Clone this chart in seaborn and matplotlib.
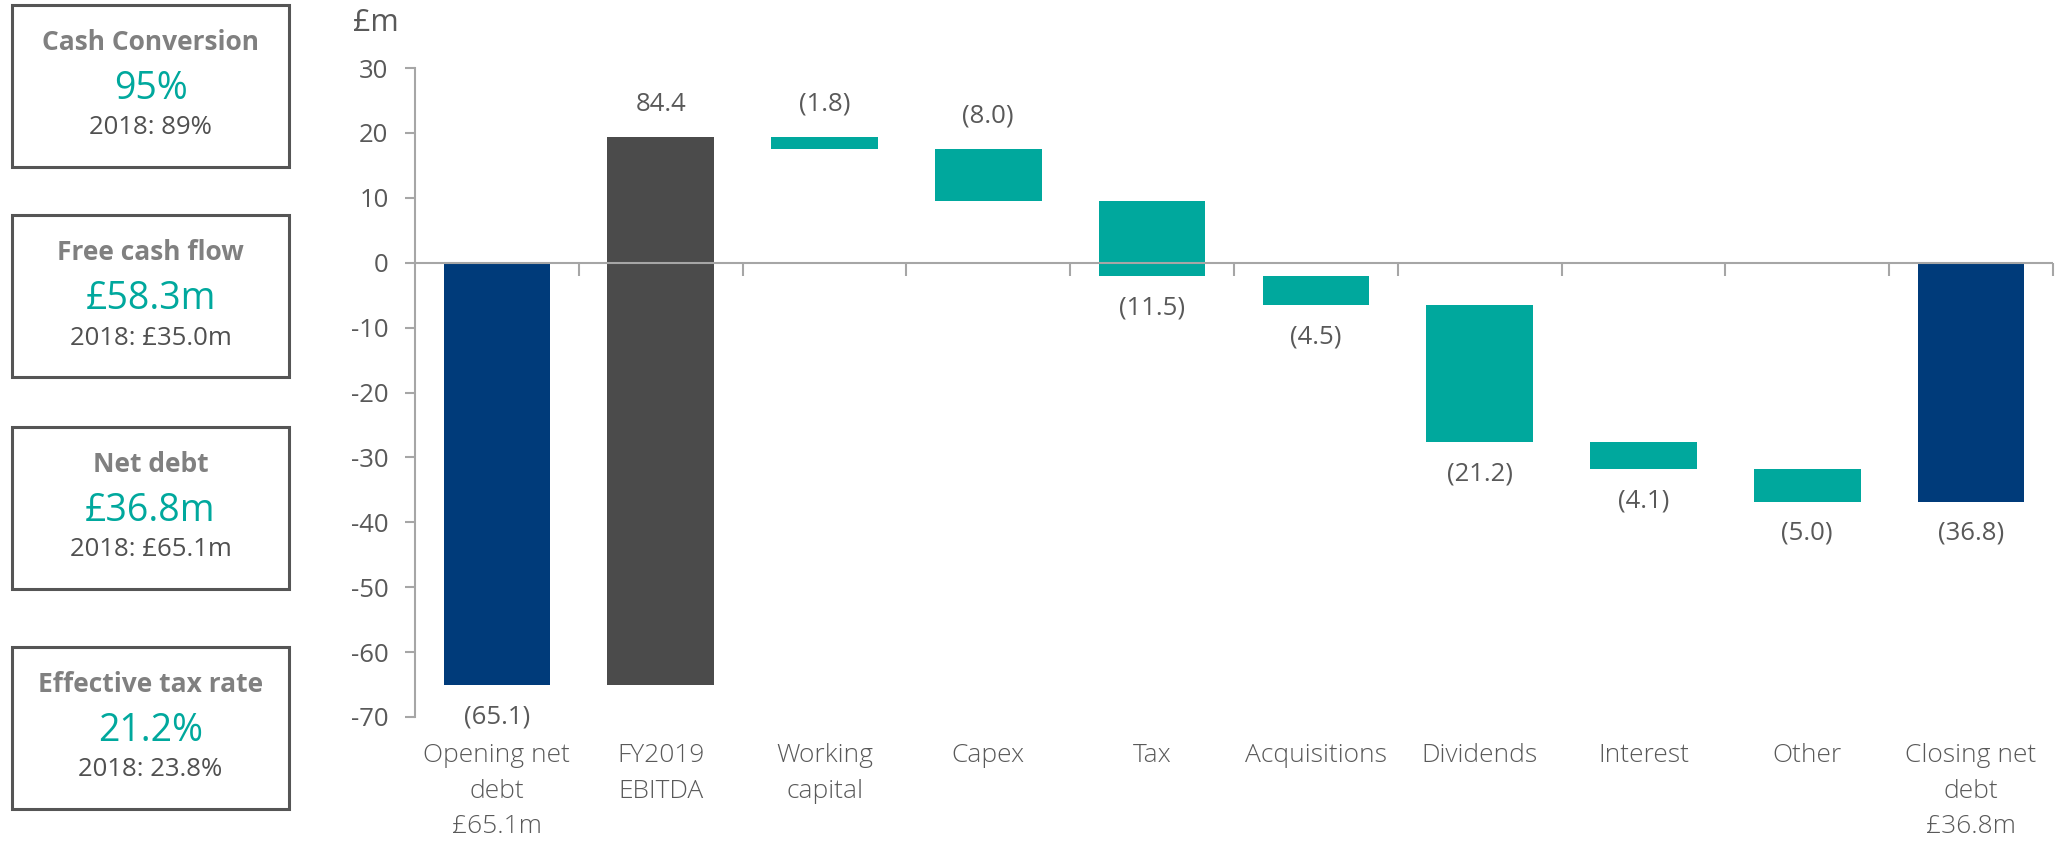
import matplotlib
matplotlib.use("Agg")
import matplotlib.pyplot as plt
import matplotlib.patches as mpatches
import numpy as np
import seaborn as sns

# ---- data ----
categories = ["Opening net\ndebt\n£65.1m", "FY2019\nEBITDA", "Working\ncapital", "Capex", "Tax",
              "Acquisitions", "Dividends", "Interest", "Other", "Closing net\ndebt\n£36.8m"]
movements = [-65.1, 84.4, -1.8, -8.0, -11.5, -4.5, -21.2, -4.1, -5.0, -36.8]
bar_labels = ["(65.1)", "84.4", "(1.8)", "(8.0)", "(11.5)", "(4.5)", "(21.2)", "(4.1)", "(5.0)", "(36.8)"]
kinds = ["total", "up", "step", "step", "step", "step", "step", "step", "step", "total"]
yticks = [30, 20, 10, 0, -10, -20, -30, -40, -50, -60, -70]

kpi_titles = ["Cash Conversion", "Free cash flow", "Net debt", "Effective tax rate"]
kpi_values = ["95%", "£58.3m", "£36.8m", "21.2%"]
kpi_prior = ["2018: 89%", "2018: £35.0m", "2018: £65.1m", "2018: 23.8%"]

# ---- style ----
NAVY = "#003B7A"
DARK = "#4B4B4B"
TEAL = "#00A89D"
TXT = "#595959"
AXC = "#A6A6A6"
colors = {"total": NAVY, "up": DARK, "step": TEAL}

sns.set_theme(style="white")
plt.rcParams["font.family"] = ["Open Sans", "DejaVu Sans"]
plt.rcParams["axes.unicode_minus"] = False

# waterfall geometry from movements
bottoms, heights = [], []
level = 0.0
for m, k in zip(movements, kinds):
    if k == "total":
        bottoms.append(0.0)
        heights.append(m)
        level = m
    else:
        bottoms.append(level)
        heights.append(m)
        level = level + m

W, H = 2060, 843
fig = plt.figure(figsize=(W / 100, H / 100), dpi=100)
ax = fig.add_axes([415 / W, 1 - 717 / H, 1638 / W, (717 - 68) / H])

sns.barplot(x=categories, y=heights, bottom=bottoms, color=TEAL, width=0.65,
            errorbar=None, ax=ax, saturation=1, linewidth=0, zorder=2)
for p, k in zip(ax.patches, kinds):
    p.set_facecolor(colors[k])
    p.set_edgecolor("none")

ax.set_ylim(-70, 30)
ax.set_xlim(-0.5, len(categories) - 0.5)
ax.set_yticks(yticks)
ax.set_yticklabels([str(v) for v in yticks])

for s in ["top", "right", "bottom"]:
    ax.spines[s].set_visible(False)
ax.spines["left"].set_color(AXC)
ax.spines["left"].set_linewidth(1.5)
ax.tick_params(axis="y", length=7, width=1.5, color=AXC, labelsize=18.5,
               labelcolor=TXT, pad=12, left=True)
ax.tick_params(axis="x", length=0, labelsize=19, labelcolor=TXT, pad=19)
for lab in ax.get_xticklabels():
    lab.set_linespacing(1.55)
    lab.set_fontweight("light")
ax.set_xlabel("")
ax.set_ylabel("")

# zero axis with category boundary ticks
ax.axhline(0, color=AXC, lw=1.5, zorder=3)
zero_frac = (0 - (-70)) / (30 - (-70))
sec = ax.secondary_xaxis(zero_frac)
sec.set_xticks(np.arange(0.5, len(categories), 1.0))
sec.set_xticklabels([])
sec.tick_params(axis="x", direction="in", length=9, width=1.5, color=AXC)
sec.spines["bottom"].set_visible(False)
sec.spines["top"].set_visible(False)

# bar value labels
for i, (b, h, lab) in enumerate(zip(bottoms, heights, bar_labels)):
    top = max(b, b + h)
    low = min(b, b + h)
    if h > 0 or low > 0:
        ax.annotate(lab, (i, top), xytext=(0, 24), textcoords="offset points",
                    ha="center", va="center", fontsize=18.5, color=TXT)
    else:
        ax.annotate(lab, (i, low), xytext=(0, -23), textcoords="offset points",
                    ha="center", va="center", fontsize=18.5, color=TXT)

fig.text(353 / W, 1 - 23 / H, "£m", fontsize=22, color=TXT, ha="left", va="center")

# KPI boxes
box_tops = [5, 215, 427, 647]
box_h = 162
bx0, bx1 = 12, 289
for t, title, val, prior in zip(box_tops, kpi_titles, kpi_values, kpi_prior):
    rect = mpatches.Rectangle((bx0 / W, 1 - (t + box_h) / H), (bx1 - bx0) / W, box_h / H,
                              transform=fig.transFigure, fill=False, edgecolor="#555555",
                              linewidth=2.2)
    fig.add_artist(rect)
    cx = (bx0 + bx1) / 2 / W
    fig.text(cx, 1 - (t + 38) / H, title, ha="center", va="center", fontsize=19,
             fontweight="bold", color="#808080")
    fig.text(cx, 1 - (t + 84) / H, val, ha="center", va="center", fontsize=27, color=TEAL)
    fig.text(cx, 1 - (t + 123) / H, prior, ha="center", va="center", fontsize=18.5, color="#505050")

fig.savefig("out.png", dpi=100)
